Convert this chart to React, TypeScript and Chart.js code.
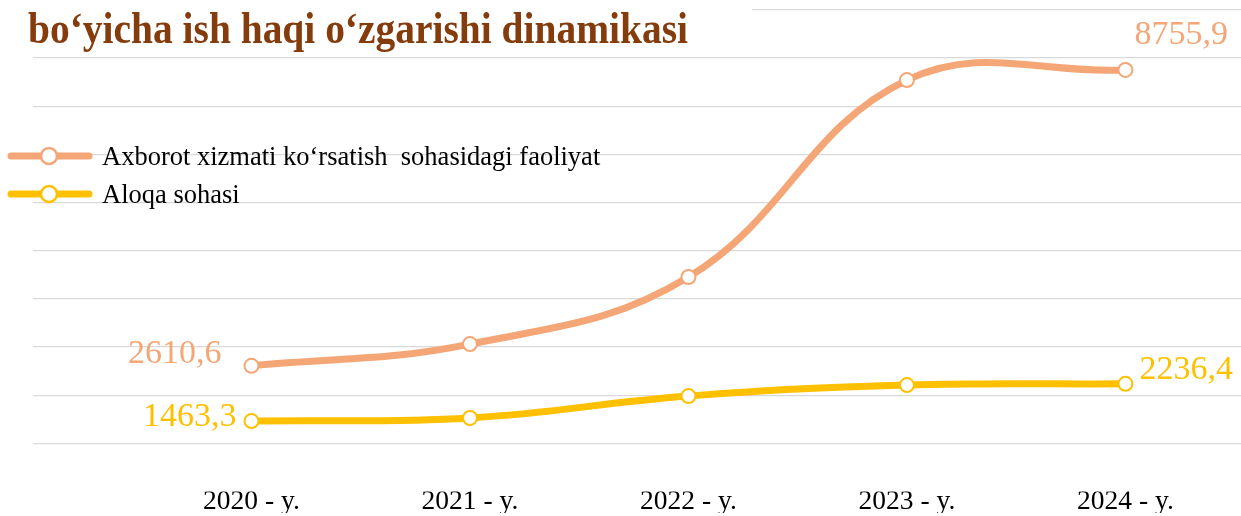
import React, { useEffect, useRef } from "react";
import { Chart, registerables } from "chart.js";

Chart.register(...registerables);

// ---- data ----
const categories = ["2020 - y.", "2021 - y.", "2022 - y.", "2023 - y.", "2024 - y."];
const axborotValues = [2610.6, 3061, 4455, 8544, 8755.9];
const aloqaValues = [1463.3, 1527, 1982, 2210, 2236.4];
const seriesNames = [
  "Axborot xizmati ko\u2018rsatish  sohasidagi faoliyat",
  "Aloqa sohasi",
];
const titleText = "bo\u2018yicha ish haqi o\u2018zgarishi dinamikasi";

// ---- style ----
const ORANGE = "#F4A676";
const YELLOW = "#FFC000";
const TITLE_COLOR = "#843C0C";
const SERIF = "'Liberation Serif', 'Times New Roman', serif";

const fmt = (v: number) => v.toFixed(1).replace(".", ",");

const overlayPlugin = {
  id: "overlay",
  beforeDatasetsDraw(chart: any) {
    const ctx = chart.ctx as CanvasRenderingContext2D;
    ctx.save();
    // title block (white background covers the top grid line)
    ctx.fillStyle = "#ffffff";
    ctx.fillRect(0, 0, 752, 52);
    ctx.fillStyle = TITLE_COLOR;
    ctx.font = `bold 44px ${SERIF}`;
    ctx.textBaseline = "alphabetic";
    ctx.textAlign = "left";
    ctx.fillText(titleText, 28, 43, 660);
    ctx.restore();
  },
  afterDatasetsDraw(chart: any) {
    const ctx = chart.ctx as CanvasRenderingContext2D;
    ctx.save();
    // legend
    chart.data.datasets.forEach((ds: any, i: number) => {
      const y = 156 + i * 38;
      ctx.strokeStyle = ds.borderColor;
      ctx.lineWidth = 7;
      ctx.lineCap = "round";
      ctx.beginPath();
      ctx.moveTo(11, y);
      ctx.lineTo(89, y);
      ctx.stroke();
      ctx.beginPath();
      ctx.arc(49, y, 8, 0, Math.PI * 2);
      ctx.fillStyle = "#ffffff";
      ctx.fill();
      ctx.lineWidth = 2.5;
      ctx.stroke();
      ctx.fillStyle = "#000000";
      ctx.font = `26.5px ${SERIF}`;
      ctx.textBaseline = "middle";
      ctx.textAlign = "left";
      ctx.fillText(ds.label, 102, y + 2);
    });

    // data labels (first and last point of each series)
    ctx.font = `34px ${SERIF}`;
    ctx.textBaseline = "middle";
    const m0 = chart.getDatasetMeta(0).data;
    const m1 = chart.getDatasetMeta(1).data;
    const d0 = chart.data.datasets[0].data;
    const d1 = chart.data.datasets[1].data;
    const n = m0.length - 1;

    ctx.fillStyle = ORANGE;
    ctx.textAlign = "right";
    ctx.fillText(fmt(d0[0].y), m0[0].x - 30, m0[0].y - 12);
    ctx.textAlign = "left";
    ctx.fillText(fmt(d0[n].y), m0[n].x + 9, m0[n].y - 35);

    ctx.fillStyle = YELLOW;
    ctx.textAlign = "right";
    ctx.fillText(fmt(d1[0].y), m1[0].x - 15, m1[0].y - 4);
    ctx.textAlign = "left";
    ctx.fillText(fmt(d1[n].y), m1[n].x + 14, m1[n].y - 14);
    ctx.restore();
  },
};

export default function App() {
  const ref = useRef<HTMLCanvasElement | null>(null);

  useEffect(() => {
    if (!ref.current) return;
    const mk = (vals: number[]) => vals.map((v, i) => ({ x: i, y: v }));
    const chart = new Chart(ref.current, {
      type: "line",
      data: {
        labels: categories,
        datasets: [
          {
            label: seriesNames[0],
            data: mk(axborotValues),
            borderColor: ORANGE,
            borderWidth: 7,
            tension: 0.4,
            pointRadius: 7,
            pointBackgroundColor: "#ffffff",
            pointBorderColor: ORANGE,
            pointBorderWidth: 2,
            borderCapStyle: "round",
          },
          {
            label: seriesNames[1],
            data: mk(aloqaValues),
            borderColor: YELLOW,
            borderWidth: 7,
            tension: 0.4,
            pointRadius: 7,
            pointBackgroundColor: "#ffffff",
            pointBorderColor: YELLOW,
            pointBorderWidth: 2,
            borderCapStyle: "round",
          },
        ],
      },
      options: {
        animation: false,
        responsive: false,
        layout: { autoPadding: false, padding: { left: 33, right: 0, top: 10, bottom: 3 } },
        plugins: {
          legend: { display: false },
          title: { display: false },
          tooltip: { enabled: false },
        },
        scales: {
          x: {
            type: "linear",
            min: -1,
            max: 4.529,
            afterBuildTicks: (s: any) => {
              s.ticks = categories.map((_, i) => ({ value: i }));
            },
            afterFit: (s: any) => {
              s.paddingLeft = 0;
              s.paddingRight = 0;
            },
            ticks: {
              callback: (v: any) => categories[v as number] ?? "",
              font: { family: SERIF, size: 27.5, lineHeight: 1 },
              color: "#000000",
              padding: -3,
              maxRotation: 0,
              autoSkip: false,
            },
            grid: { display: false, drawTicks: false },
            border: { display: false },
          },
          y: {
            min: 0,
            max: 10000,
            ticks: { display: false, stepSize: 1000 },
            grid: {
              color: (c: any) => (c.tick && c.tick.value === 0 ? "rgba(0,0,0,0)" : "#D9D9D9"),
              lineWidth: 1.3,
              drawTicks: false,
            },
            border: { display: false },
          },
        },
      } as any,
      plugins: [overlayPlugin],
    });
    return () => chart.destroy();
  }, []);

  return (
    <div style={{ position: "fixed", left: 0, top: 0, width: 1241, height: 516, background: "#fff" }}>
      <canvas ref={ref} width={1241} height={516} style={{ display: "block" }} />
    </div>
  );
}
